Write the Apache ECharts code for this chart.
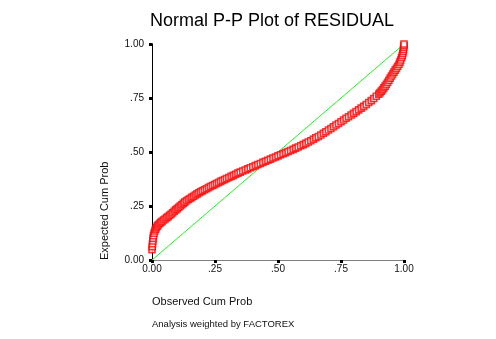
<!DOCTYPE html>
<html>
<head>
<meta charset="utf-8">
<script src="https://cdn.jsdelivr.net/npm/echarts@6/dist/echarts.min.js"></script>
<style>
  html, body { margin: 0; padding: 0; background: #fff; }
  #chart { width: 496px; height: 339px; }
</style>
</head>
<body>
<div id="chart"></div>
<script>
// Observed cumulative probability of the residuals (x)
var observedCum = [
  0.000, 0.001, 0.002, 0.003, 0.004, 0.006, 0.008, 0.011, 0.014, 0.017, 0.021,
  0.025, 0.030, 0.035, 0.040, 0.046, 0.052, 0.058, 0.064, 0.070, 0.076, 0.082, 0.088, 0.094, 0.100,
  0.106, 0.112, 0.118, 0.124, 0.130, 0.137, 0.144, 0.151, 0.158, 0.165, 0.172, 0.179, 0.186, 0.193, 0.200,
  0.208, 0.216, 0.224, 0.232, 0.240, 0.248, 0.256, 0.264, 0.272, 0.280, 0.288, 0.296,
  0.305, 0.314, 0.323, 0.332, 0.341, 0.350, 0.360, 0.370, 0.380, 0.390, 0.400, 0.410, 0.420, 0.430,
  0.440, 0.450, 0.460, 0.470, 0.480, 0.490, 0.500,
  0.510, 0.520, 0.530, 0.540, 0.550, 0.560, 0.570, 0.580, 0.590, 0.600, 0.610, 0.620, 0.630, 0.640,
  0.650, 0.660, 0.670, 0.680, 0.690, 0.700,
  0.710, 0.720, 0.730, 0.740, 0.750, 0.760, 0.770, 0.780, 0.790, 0.800, 0.810, 0.820, 0.830, 0.840,
  0.850, 0.860, 0.870, 0.880, 0.890, 0.900,
  0.905, 0.910, 0.915, 0.920, 0.925, 0.930, 0.935, 0.940, 0.945, 0.950, 0.955, 0.960, 0.965, 0.970,
  0.975, 0.980, 0.984, 0.987, 0.990, 0.993, 0.995, 0.997, 0.998, 0.999, 1.000, 1.000
];

// Expected cumulative probability under normality (y)
var expectedCum = [
  0.048, 0.062, 0.075, 0.088, 0.100, 0.112, 0.124, 0.134, 0.143, 0.150, 0.157,
  0.163, 0.169, 0.174, 0.179, 0.185, 0.190, 0.196, 0.201, 0.207, 0.213, 0.219, 0.226, 0.232, 0.238,
  0.244, 0.250, 0.256, 0.262, 0.268, 0.274, 0.280, 0.285, 0.290, 0.295, 0.301, 0.306, 0.311, 0.316, 0.320,
  0.325, 0.330, 0.335, 0.340, 0.345, 0.349, 0.354, 0.359, 0.364, 0.368, 0.373, 0.377,
  0.382, 0.387, 0.392, 0.397, 0.402, 0.407, 0.412, 0.417, 0.422, 0.427, 0.432, 0.437, 0.442, 0.447,
  0.452, 0.457, 0.462, 0.467, 0.472, 0.477, 0.482,
  0.487, 0.492, 0.497, 0.502, 0.507, 0.512, 0.518, 0.523, 0.529, 0.534, 0.540, 0.546, 0.552, 0.559,
  0.566, 0.572, 0.579, 0.587, 0.594, 0.602,
  0.609, 0.617, 0.625, 0.632, 0.640, 0.648, 0.656, 0.663, 0.671, 0.679, 0.687, 0.695, 0.703, 0.711,
  0.720, 0.729, 0.738, 0.748, 0.758, 0.768,
  0.775, 0.782, 0.789, 0.797, 0.805, 0.814, 0.823, 0.832, 0.842, 0.852, 0.861, 0.870, 0.879, 0.888,
  0.897, 0.906, 0.916, 0.926, 0.936, 0.946, 0.956, 0.966, 0.976, 0.985, 0.993, 1.000
];

// Reference diagonal (perfect normal fit)
var diagonalX = [0, 1];
var diagonalY = [0, 1];

var tickValues = [0, 0.25, 0.5, 0.75, 1];
var tickLabels = ['0.00', '.25', '.50', '.75', '1.00'];

var titleText = 'Normal P-P Plot of RESIDUAL';
var xName = 'Observed Cum Prob';
var yName = 'Expected Cum Prob';
var footText = 'Analysis weighted by FACTOREX';

var FONT = '"Liberation Sans", Arial, sans-serif';

function fmtTick(v) {
  for (var i = 0; i < tickValues.length; i++) {
    if (Math.abs(tickValues[i] - v) < 1e-9) return tickLabels[i];
  }
  return '';
}

var points = observedCum.map(function (x, i) { return [x, expectedCum[i]]; });
var diagonal = diagonalX.map(function (x, i) { return [x, diagonalY[i]]; });

var chart = echarts.init(document.getElementById('chart'), null, { renderer: 'canvas' });

function axisBase(pos, lineColor, showLabels) {
  return {
    type: 'value',
    position: pos,
    min: 0,
    max: 1,
    interval: 0.25,
    splitLine: { show: false },
    axisLine: { show: true, lineStyle: { color: lineColor, width: 1 } },
    axisTick: { show: showLabels, length: 3, lineStyle: { color: '#000', width: 3 } },
    axisLabel: {
      show: showLabels,
      formatter: fmtTick,
      color: '#111',
      fontFamily: FONT,
      fontSize: 10
    }
  };
}

var xBottom = axisBase('bottom', '#808080', true);
xBottom.axisLabel.margin = 4;
var xTop = axisBase('top', '#808080', false);
var yLeft = axisBase('left', '#000', true);
yLeft.axisLabel.margin = 8;
var yRight = axisBase('right', '#000', false);

chart.setOption({
  animation: false,
  backgroundColor: '#fff',
  grid: { left: 152, top: 44, width: 252, height: 216 },
  xAxis: [xBottom, xTop],
  yAxis: [yLeft, yRight],
  series: [
    {
      type: 'line',
      data: diagonal,
      xAxisIndex: 0,
      yAxisIndex: 0,
      symbol: 'none',
      lineStyle: { color: '#22ee22', width: 1 },
      z: 2
    },
    {
      type: 'scatter',
      data: points,
      xAxisIndex: 0,
      yAxisIndex: 0,
      symbol: 'rect',
      symbolSize: 6,
      itemStyle: { color: '#ffffff', borderColor: '#ff0000', borderWidth: 1.6 },
      z: 3
    }
  ],
  graphic: [
    {
      type: 'text',
      x: 272, y: 21,
      style: { text: titleText, fill: '#000', font: '18px ' + FONT, align: 'center', verticalAlign: 'middle' }
    },
    {
      type: 'text',
      x: 99, y: 260,
      rotation: Math.PI / 2,
      style: { text: yName, fill: '#111', font: '11px ' + FONT, align: 'left', verticalAlign: 'top' }
    },
    {
      type: 'text',
      x: 152, y: 296,
      style: { text: xName, fill: '#111', font: '11px ' + FONT, align: 'left', verticalAlign: 'top' }
    },
    {
      type: 'text',
      x: 152, y: 319,
      style: { text: footText, fill: '#111', font: '9.5px ' + FONT, align: 'left', verticalAlign: 'top' }
    }
  ]
});
</script>
</body>
</html>
